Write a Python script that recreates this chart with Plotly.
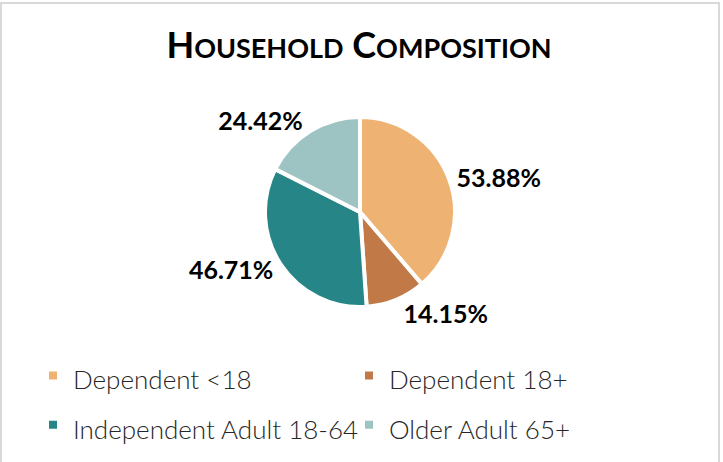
import plotly.graph_objects as go

categories = ["Dependent <18", "Dependent 18+", "Independent Adult 18-64", "Older Adult 65+"]
values = [53.88, 14.15, 46.71, 24.42]
colors = ["#EEB373", "#C17A47", "#268587", "#9DC3C2"]
title_text = "Household Composition"


def small_caps(text, small_px):
    words = []
    for w in text.split(" "):
        words.append(w[0].upper() + f'<span style="font-size:{small_px}px">{w[1:].upper()}</span>')
    return " ".join(words)


label_text = [f"{v:.2f}%" for v in values]
legend_names = [
    '<span style="font-size:26px">' + c.replace("<", "&lt;") + "</span>" for c in categories
]

fig = go.Figure(
    go.Pie(
        labels=legend_names,
        values=values,
        text=label_text,
        textinfo="text",
        textposition="outside",
        sort=False,
        direction="clockwise",
        rotation=0,
        marker=dict(colors=colors, line=dict(color="white", width=4)),
        textfont=dict(family="Lato", size=25, color="#000000", weight="bold"),
        domain=dict(x=[0.0, 720 / 723], y=[1 - 307 / 462, 1 - 117 / 462]),
        hovertemplate="%{label}: %{value}<extra></extra>",
    )
)

fig.update_layout(
    width=723,
    height=462,
    margin=dict(l=0, r=0, t=0, b=0, autoexpand=False),
    paper_bgcolor="white",
    plot_bgcolor="white",
    title=dict(
        text=small_caps(title_text, 27),
        x=359 / 723,
        xanchor="center",
        y=1 - 45 / 462,
        yanchor="middle",
        font=dict(family="Lato", size=36, color="#000000", weight="bold"),
    ),
    legend=dict(
        orientation="h",
        x=33 / 723,
        xanchor="left",
        y=1 - 346 / 462,
        yanchor="top",
        font=dict(family="Lato", size=35.5, color="#262626", weight=300),
        entrywidth=271,
        entrywidthmode="pixels",
        traceorder="normal",
    ),
    showlegend=True,
    shapes=[
        dict(
            type="rect",
            xref="paper",
            yref="paper",
            x0=1 / 723,
            x1=719 / 723,
            y0=-0.05,
            y1=1 - 3 / 462,
            line=dict(color="#D9D9D9", width=2),
            fillcolor="rgba(0,0,0,0)",
            layer="below",
        )
    ],
)

fig.write_html(
    "out.html",
    config={"displayModeBar": False},
    post_script="document.body.style.margin='0';",
)
